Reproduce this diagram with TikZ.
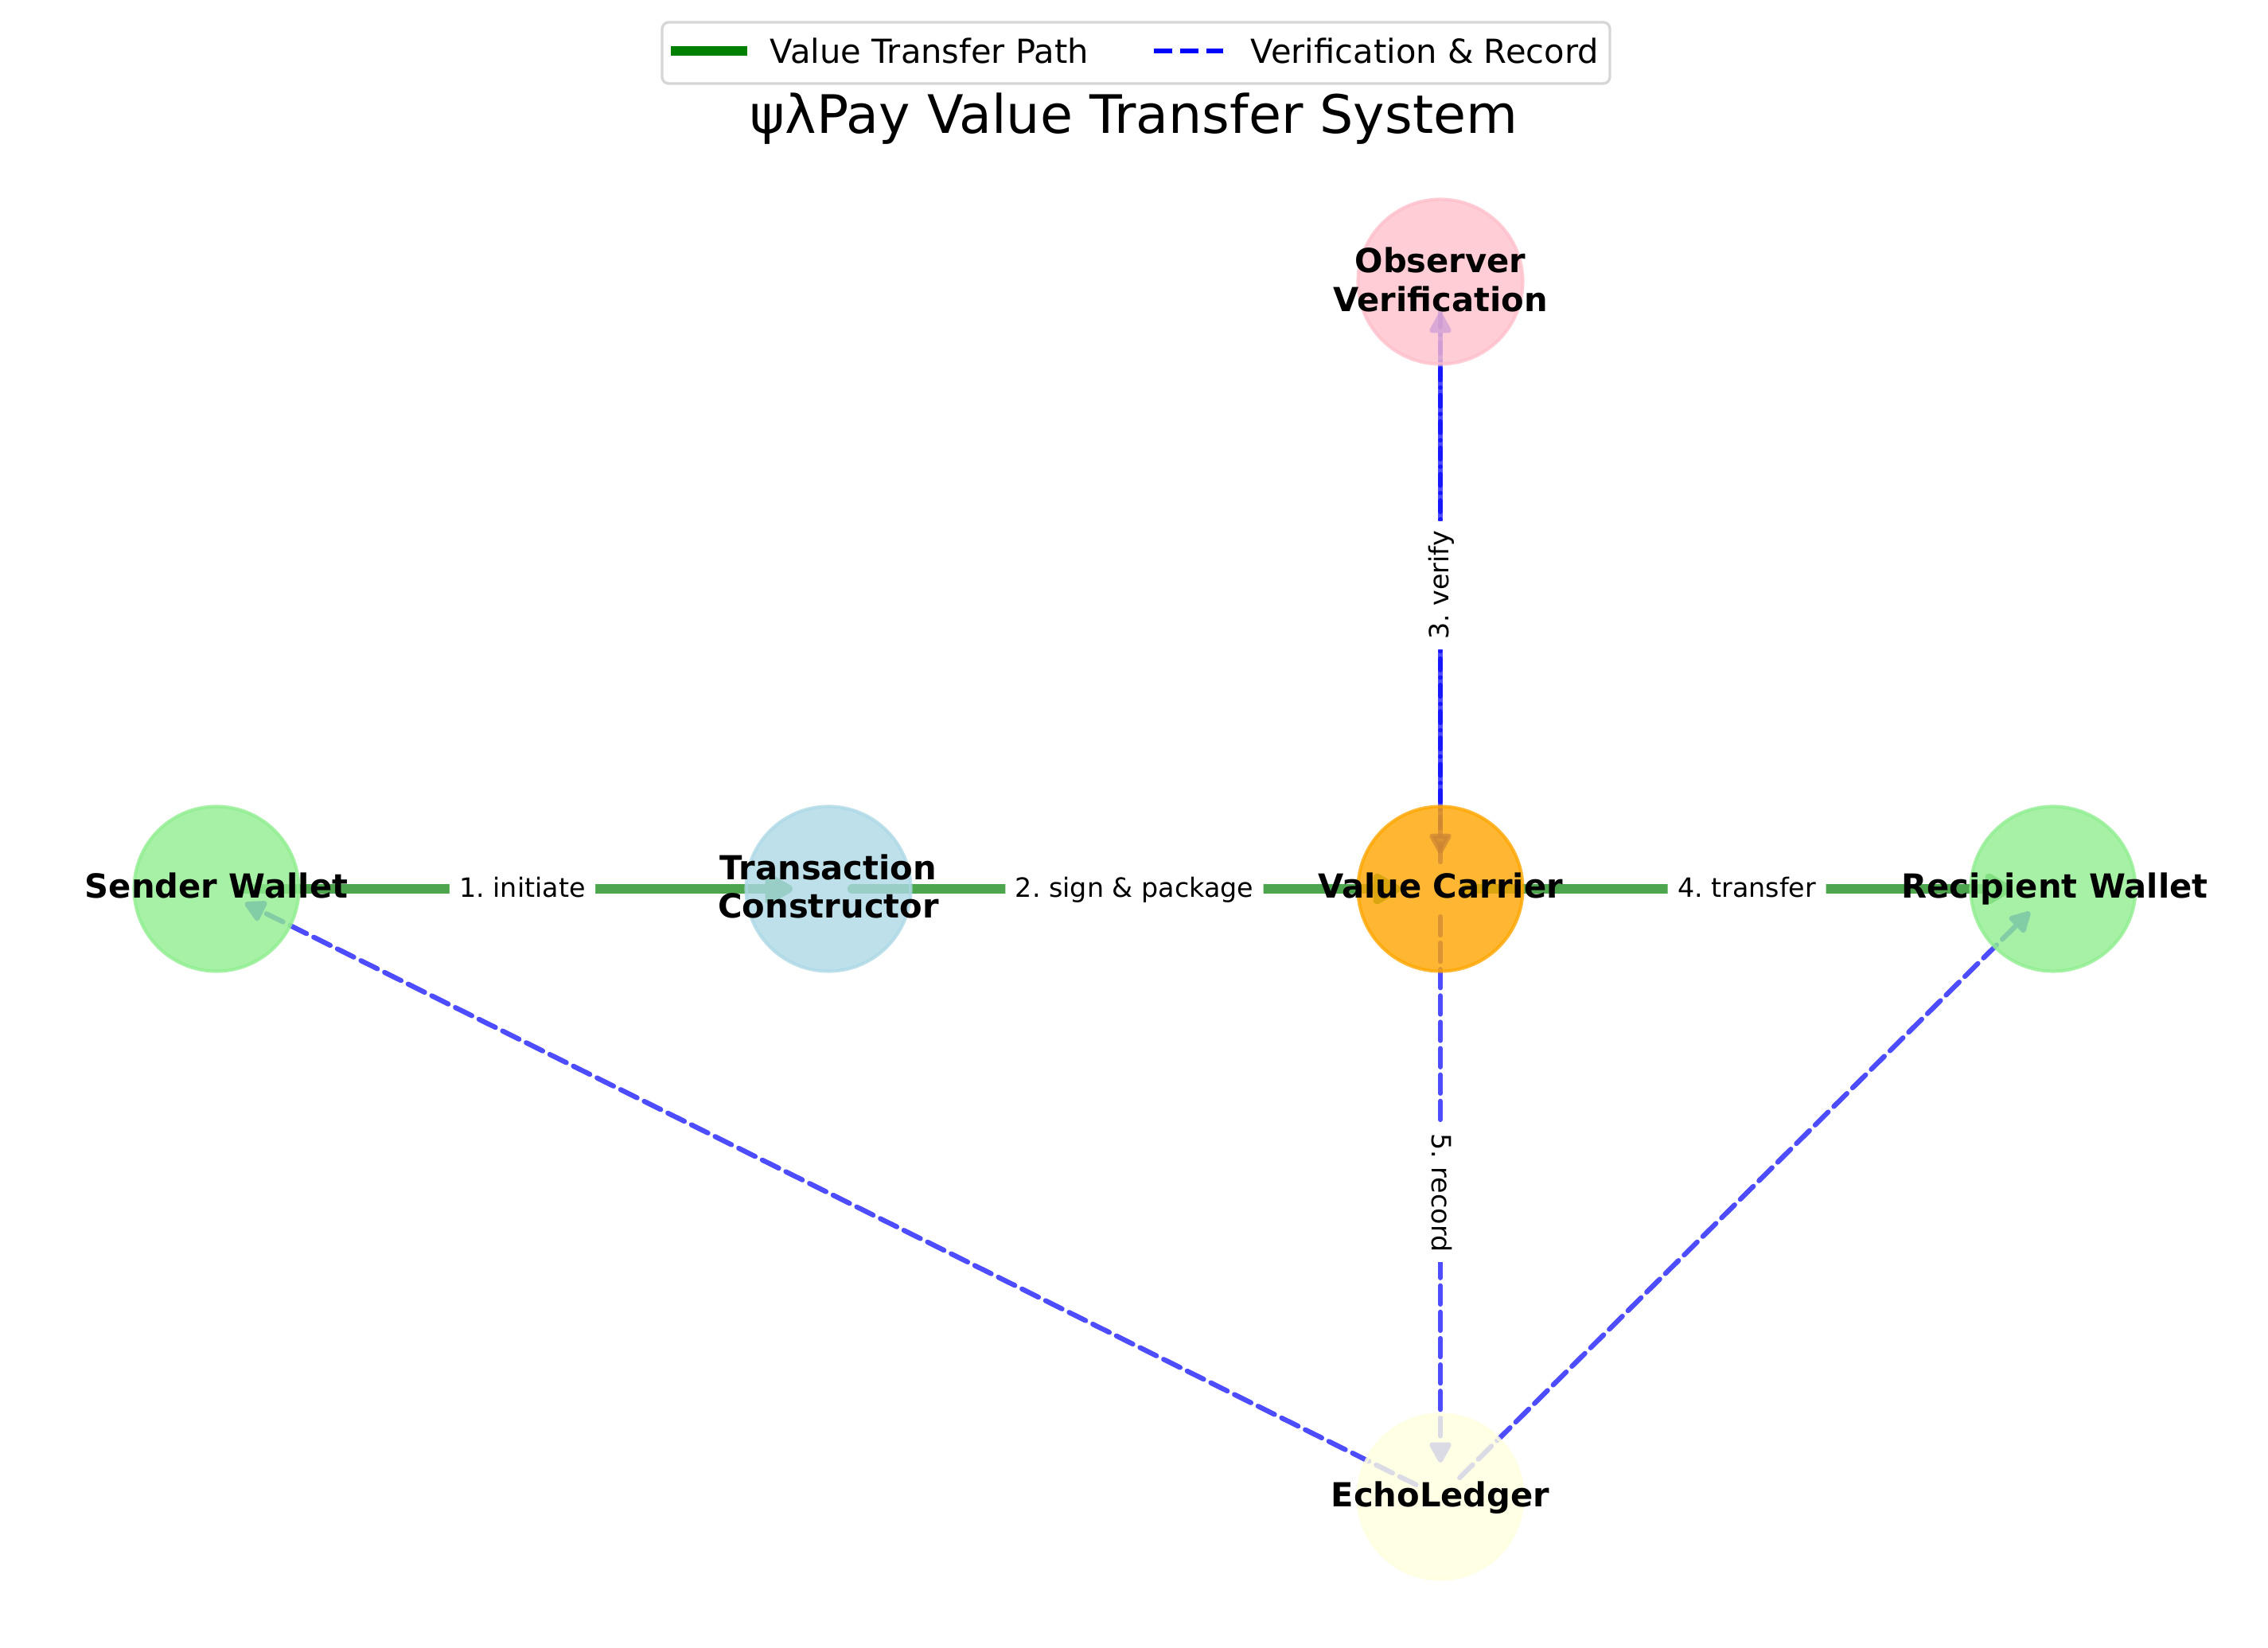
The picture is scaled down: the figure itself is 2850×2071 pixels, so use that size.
\documentclass[tikz,border=0pt]{standalone}
\usepackage{fontspec}
\setmainfont{DejaVu Sans}
\usetikzlibrary{arrows.meta}
\frenchspacing
\definecolor{greenE}{RGB}{77,166,77}
\definecolor{blueE}{RGB}{77,77,255}
\definecolor{legGreen}{RGB}{0,128,0}
\definecolor{legBlue}{RGB}{0,0,255}
\definecolor{legGray}{RGB}{214,214,214}
\definecolor{cLightGreen}{RGB}{144,238,144}
\definecolor{cLightBlue}{RGB}{173,216,230}
\definecolor{cOrange}{RGB}{255,165,0}
\definecolor{cPink}{RGB}{255,192,203}
\definecolor{cLightYellow}{RGB}{255,255,224}
\pgfdeclarelayer{edgelayer}
\pgfsetlayers{edgelayer,main}
\begin{document}
\begin{tikzpicture}[x=0.24pt, y=-0.24pt,
  nodecirc/.style={circle, inner sep=0pt, outer sep=0pt, minimum size=49.68pt,
    line width=1pt, fill opacity=0.8, draw opacity=0.8},
  nlabel/.style={font=\bfseries\fontsize{10}{12}\selectfont, anchor=base, inner sep=0pt},
  elabel/.style={font=\fontsize{8}{9.6}\selectfont, fill=white, rounded corners=3pt,
    inner sep=3pt, text height=0.76em, text depth=0.24em},
  greenedge/.style={draw=greenE, line width=3pt, line cap=round,
    -{Triangle[length=9.6pt, width=10.3pt, round]}},
  blueedge/.style={draw=blueE, line width=1.5pt, line cap=round,
    dash pattern=on 5.55pt off 2.4pt,
    -{Triangle[length=7pt, width=7.2pt, round]}},
  legtext/.style={font=\fontsize{10}{12}\selectfont, anchor=base west, inner sep=0pt}
]
\useasboundingbox (0,0) rectangle (2850,2071);

% legend
\node[draw=legGray, line width=0.8pt, rounded corners=2pt, fill=white,
  minimum width=285.84pt, minimum height=18.48pt, inner sep=0pt] (legend) at (1427.5,66.5) {};
\coordinate (lgA) at (843,64);
\coordinate (lgB) at (939,64);
\coordinate (lbA) at (1450,64);
\coordinate (lbB) at (1537,64);
\draw[legGreen, line width=3pt] (lgA) -- (lgB);
\draw[legBlue, line width=1.5pt, dash pattern=on 5.55pt off 2.4pt] (lbA) -- (lbB);
\node[legtext] (lt1) at (967,80) {Value Transfer Path};
\node[legtext] (lt2) at (1571,80) {Verification \& Record};

% title
\node[anchor=base, font=\fontsize{16}{19}\selectfont, inner sep=0pt] (title) at (1425,168) {ψλPay Value Transfer System};

% nodes
\node[nodecirc, fill=cLightGreen, draw=cLightGreen] (sw) at (272,1117) {};
\node[nodecirc, fill=cLightBlue, draw=cLightBlue] (tc) at (1041,1117) {};
\node[nodecirc, fill=cOrange, draw=cOrange] (vc) at (1810,1117) {};
\node[nodecirc, fill=cLightGreen, draw=cLightGreen] (rw) at (2580,1117) {};
\node[nodecirc, fill=cPink, draw=cPink] (ov) at (1810,354) {};
\node[nodecirc, fill=cLightYellow, draw=cLightYellow] (el) at (1810,1881) {};

% edges (below nodes)
\begin{pgfonlayer}{edgelayer}
\draw[greenedge, shorten <=7.68pt, shorten >=10.8pt] (sw.center) -- (tc.center);
\draw[greenedge, shorten <=7.2pt, shorten >=12pt] (tc.center) -- (vc.center);
\draw[greenedge, shorten <=7.68pt, shorten >=12.24pt] (vc.center) -- (rw.center);
\draw[blueedge, shorten <=8.16pt, shorten >=9.36pt] (vc.center) -- (ov.center);
\draw[blueedge, draw=legBlue, opacity=0.7, shorten <=8.16pt, shorten >=10.56pt] (ov.center) -- (vc.center);
\draw[blueedge, shorten <=8.4pt, shorten >=10.32pt] (vc.center) -- (el.center);
\draw[blueedge, shorten <=8.16pt, shorten >=9.6pt] (el.center) -- (sw.center);
\draw[blueedge, shorten <=8.16pt, shorten >=9.84pt] (el.center) -- (rw.center);
\end{pgfonlayer}

% node labels
\node[nlabel] (swl) at (272,1129) {Sender Wallet};
\node[nlabel] (tcl1) at (1041,1106) {Transaction};
\node[nlabel] (tcl2) at (1041,1154) {Constructor};
\node[nlabel] (vcl) at (1810,1129) {Value Carrier};
\node[nlabel] (rwl) at (2582,1129) {Recipient Wallet};
\node[nlabel] (ovl1) at (1810,343) {Observer};
\node[nlabel] (ovl2) at (1810,392) {Verification};
\node[nlabel] (ell) at (1810,1893) {EchoLedger};

% edge labels
\node[elabel] (e1) at (656.5,1117) {1. initiate};
\node[elabel] (e2) at (1425.5,1117) {2. sign \& package};
\node[elabel] (e4) at (2195,1117) {4. transfer};
\node[elabel, rotate=90] (e3) at (1810,735.5) {3. verify};
\node[elabel, rotate=-90] (e5) at (1810,1499) {5. record};
\end{tikzpicture}
\end{document}
